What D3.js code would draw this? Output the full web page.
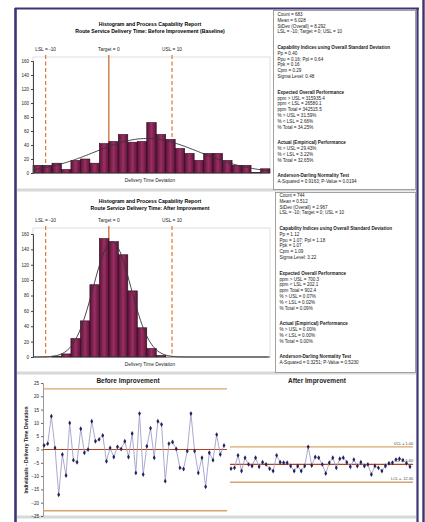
<!DOCTYPE html>
<html>
<head>
<meta charset="utf-8">
<script src="https://cdn.jsdelivr.net/npm/d3@7"></script>
<style>
  body { margin: 0; background: #fff; }
  text { font-family: "Liberation Sans", Arial, sans-serif; }
</style>
</head>
<body>
<svg id="chart" width="425" height="522"></svg>
<script>
///////////////////////////////////////////////////////////////////////////////
// data

var beforeBinStart = -12;
var beforeBinWidth = 1.5;
var beforeCounts = [11, 11, 14, 5, 18, 20, 14, 42, 45, 55, 44, 45, 72, 55, 48,
                    35, 28, 18, 28, 28, 18, 11, 11, 1, 6];
var beforeMean = 6.03, beforeSd = 8.29;

var afterBinStart = -9;
var afterBinWidth = 1.5;
var afterCounts = [1, 4, 24, 47, 94, 154, 150, 133, 86, 38, 11, 2];
var afterMean = 0.51, afterSd = 2.97;

var specValues = [-10, 0, 10];
var specLabels = ["LSL = -10", "Target = 0", "USL = 10"];
var histTicks = [0, 20, 40, 60, 80, 100, 120, 140, 160];

var beforeIndividuals = [1.5, 2.2, 12.5, 0.6, -17, -1.9, -9.8, 10, -4, -4.8,
  7.8, -1.2, 0, 10.6, 3.1, 3.8, 5.3, -4.4, 0.6, -2.8, 1, 0.2, 3.1, -2.8, 6,
  -8.8, 13.5, -9.4, 1.2, 8, -3.1, 10.6, 9.4, -11.9, 2.2, 2.8, 0.2, -6.9, -7.3,
  -0.6, 13.5, -0.6, -8.8, -3.1, -14, -1.2, -4, 5.6, -1.9, 1.5];
var afterIndividuals = [-7.2, -6.9, -2.2, -8.1, -3.1, -5.6, -6.2, -3.1, -6.5,
  -4.8, -5.6, -7.2, -8.1, -2.2, -4.8, -5, -5, -6.2, -8.1, -6.2, -8.1, -6.2, 1,
  -6, -2.8, -3.1, -5.6, -9, -5, -3.1, -6.9, -3.5, -3.1, -4.8, -6.5, -3.8,
  -6.2, -4.8, -6.2, -5.6, -9.4, -6.2, -6.9, -8.1, -6.2, -5.2, -5, -3.8, -3.5,
  -4, -5.2, -6.5];
var beforeLimits = [22.8, 0, -23.0];   // UCL, CL, LCL
var afterLimits = [1.0, -5.6, -12.3];
var limitLabels = ["UCL = 1.00", "CL = -5.60", "LCL = -12.30"];
var ctrlTicks = [-25, -20, -15, -10, -5, 0, 5, 10, 15, 20, 25];

var beforeReport = [
  ["Count = 683", "Mean = 6.028", "StDev (Overall) = 8.292",
   "LSL = -10; Target = 0; USL = 10"],
  ["Capability Indices using Overall Standard Deviation", "Pp = 0.40",
   "Ppu = 0.16; Ppl = 0.64", "Ppk = 0.16", "Cpm = 0.29", "Sigma Level: 0.48"],
  ["Expected Overall Performance", "ppm > USL = 315935.4",
   "ppm < LSL = 26580.1", "ppm Total = 342515.5", "% > USL = 31.59%",
   "% < LSL = 2.66%", "% Total = 34.25%"],
  ["Actual (Empirical) Performance", "% > USL = 29.43%", "% < LSL = 3.22%",
   "% Total = 32.65%"],
  ["Anderson-Darling Normality Test", "A-Squared = 0.9163; P-Value = 0.0194"]
];
var afterReport = [
  ["Count = 744", "Mean = 0.512", "StDev (Overall) = 2.967",
   "LSL = -10; Target = 0; USL = 10"],
  ["Capability Indices using Overall Standard Deviation", "Pp = 1.12",
   "Ppu = 1.07; Ppl = 1.18", "Ppk = 1.07", "Cpm = 1.09", "Sigma Level: 3.22"],
  ["Expected Overall Performance", "ppm > USL = 700.3", "ppm < LSL = 202.1",
   "ppm Total = 902.4", "% > USL = 0.07%", "% < LSL = 0.02%",
   "% Total = 0.09%"],
  ["Actual (Empirical) Performance", "% > USL = 0.00%", "% < LSL = 0.00%",
   "% Total = 0.00%"],
  ["Anderson-Darling Normality Test", "A-Squared = 0.3251; P-Value = 0.5230"]
];

///////////////////////////////////////////////////////////////////////////////

var svg = d3.select("#chart");
var frameColor = "#3b3577";

var defs = svg.append("defs");
var grad = defs.append("linearGradient").attr("id", "barFill")
  .attr("x1", 0).attr("x2", 1).attr("y1", 0).attr("y2", 0);
grad.append("stop").attr("offset", "0%").attr("stop-color", "#5c1238");
grad.append("stop").attr("offset", "50%").attr("stop-color", "#9a2f63");
grad.append("stop").attr("offset", "100%").attr("stop-color", "#5c1238");

// grey separators between the report blocks
[190, 373, 517].forEach(function (y) {
  svg.append("rect").attr("x", 17).attr("y", y - 1.5).attr("width", 399)
    .attr("height", 3).attr("fill", "#d8d8d8");
});

var drawHist = function (cfg) {
  var x = d3.scaleLinear().domain([-12, 25.5]).range([33, 270]);
  var y = d3.scaleLinear().domain([0, 160]).range([cfg.bottom, cfg.top160]);
  var g = svg.append("g");

  g.append("text").attr("x", 150).attr("y", cfg.titleY)
    .attr("text-anchor", "middle").attr("font-size", 5.2)
    .attr("font-weight", "bold").text("Histogram and Process Capability Report");
  g.append("text").attr("x", 150).attr("y", cfg.titleY + 7)
    .attr("text-anchor", "middle").attr("font-size", 5.2)
    .attr("font-weight", "bold").text(cfg.subtitle);

  g.append("rect").attr("x", 33).attr("y", cfg.plotTop).attr("width", 237)
    .attr("height", cfg.bottom - cfg.plotTop).attr("fill", "#fff")
    .attr("stroke", "#c8c8c8").attr("stroke-width", 0.6);

  // spec limits sit behind the bars
  specValues.forEach(function (v, i) {
    g.append("line").attr("x1", x(v)).attr("x2", x(v))
      .attr("y1", cfg.plotTop - 2).attr("y2", cfg.bottom)
      .attr("stroke", i === 1 ? "#c8622a" : "#e0782e")
      .attr("stroke-width", 1.2)
      .attr("stroke-dasharray", i === 1 ? null : "4,2.5");
    g.append("text").attr("x", x(v)).attr("y", cfg.plotTop - 6)
      .attr("text-anchor", "middle").attr("font-size", 4.8)
      .attr("fill", "#222").text(specLabels[i]);
  });

  g.selectAll("rect.bar").data(cfg.counts).enter().append("rect")
    .attr("class", "bar")
    .attr("x", function (d, i) { return x(cfg.start + i * cfg.width); })
    .attr("y", function (d) { return y(d); })
    .attr("width", x(cfg.width) - x(0))
    .attr("height", function (d) { return cfg.bottom - y(d); })
    .attr("fill", "url(#barFill)")
    .attr("stroke", "#2a0a1c").attr("stroke-width", 0.6);

  // fitted normal from the reported mean and stdev
  var n = d3.sum(cfg.counts);
  var pts = d3.range(-12, 25.5, 0.25).map(function (v) {
    var z = (v - cfg.mean) / cfg.sd;
    return [v, n * cfg.width * Math.exp(-0.5 * z * z) / (cfg.sd * Math.sqrt(2 * Math.PI))];
  });
  g.append("path").datum(pts)
    .attr("d", d3.line().x(function (d) { return x(d[0]); })
      .y(function (d) { return y(d[1]); }).curve(d3.curveBasis))
    .attr("fill", "none").attr("stroke", "#333").attr("stroke-width", 0.9);

  g.append("g").attr("transform", "translate(33,0)")
    .call(d3.axisLeft(y).tickValues(histTicks).tickSize(2).tickPadding(2))
    .call(function (a) {
      a.selectAll("text").attr("font-size", 4.5).attr("fill", "#222");
      a.select(".domain").attr("stroke", "#444");
      a.selectAll(".tick line").attr("stroke", "#444");
    });
  g.append("line").attr("x1", 33).attr("x2", 270)
    .attr("y1", cfg.bottom).attr("y2", cfg.bottom)
    .attr("stroke", "#444").attr("stroke-width", 0.8);

  g.append("text").attr("x", 150).attr("y", cfg.bottom + 9)
    .attr("text-anchor", "middle").attr("font-size", 4.8)
    .attr("fill", "#222").text("Delivery Time Deviation");
};

drawHist({
  titleY: 26, subtitle: "Route Service Delivery Time: Before Improvement (Baseline)",
  plotTop: 57, top160: 61, bottom: 173,
  counts: beforeCounts, start: beforeBinStart, width: beforeBinWidth,
  mean: beforeMean, sd: beforeSd
});
drawHist({
  titleY: 203, subtitle: "Route Service Delivery Time: After Improvement",
  plotTop: 228, top160: 234, bottom: 357,
  counts: afterCounts, start: afterBinStart, width: afterBinWidth,
  mean: afterMean, sd: afterSd
});

///////////////////////////////////////////////////////////////////////////////
// text panels

var drawReport = function (groups, box, firstY) {
  svg.append("rect").attr("x", box[0]).attr("y", box[1])
    .attr("width", box[2]).attr("height", box[3])
    .attr("fill", "#fff").attr("stroke", "#8a8a8a").attr("stroke-width", 0.8);
  var yy = firstY;
  groups.forEach(function (lines, gi) {
    lines.forEach(function (line, li) {
      svg.append("text").attr("x", box[0] + 4).attr("y", yy)
        .attr("font-size", 4.6)
        .attr("font-weight", (li === 0 && gi > 0) ? "bold" : "normal")
        .attr("fill", "#1a1a1a").text(line);
      yy += 5.8;
    });
    yy += 5.8 * 1.7;
  });
};

drawReport(beforeReport, [273.5, 10.5, 142, 179], 16);
drawReport(afterReport, [275.5, 192.5, 140, 180], 197);

///////////////////////////////////////////////////////////////////////////////
// individuals charts

var yc = d3.scaleLinear().domain([-25, 25]).range([516, 383]);

svg.append("g").attr("transform", "translate(43,0)")
  .call(d3.axisLeft(yc).tickValues(ctrlTicks).tickSize(2).tickPadding(2))
  .call(function (a) {
    a.selectAll("text").attr("font-size", 4.5).attr("fill", "#222");
    a.select(".domain").attr("stroke", "#999");
    a.selectAll(".tick line").attr("stroke", "#666");
  });

svg.append("text")
  .attr("transform", "translate(28,450) rotate(-90)")
  .attr("text-anchor", "middle").attr("font-size", 5).attr("font-weight", "bold")
  .attr("fill", "#222").text("Individuals - Delivery Time Deviation");

var drawIndividuals = function (vals, limits, x0, x1, title, titleX, labels) {
  var x = d3.scaleLinear().domain([1, vals.length]).range([x0 + 1, x1 - 3]);
  var g = svg.append("g");

  g.append("text").attr("x", titleX).attr("y", 383)
    .attr("text-anchor", "middle").attr("font-size", 6.5)
    .attr("font-weight", "bold").attr("fill", "#222").text(title);

  limits.forEach(function (v, i) {
    g.append("line").attr("x1", x0).attr("x2", x1)
      .attr("y1", yc(v)).attr("y2", yc(v))
      .attr("stroke", i === 1 ? "#b5401e" : "#d8a46c")
      .attr("stroke-width", i === 1 ? 1.1 : 1.4);
    if (labels) {
      g.append("text").attr("x", x1).attr("y", yc(v) - 2)
        .attr("text-anchor", "end").attr("font-size", 3.8)
        .attr("fill", "#444").text(labels[i]);
    }
  });

  g.append("path").datum(vals)
    .attr("d", d3.line().x(function (d, i) { return x(i + 1); })
      .y(function (d) { return yc(d); }))
    .attr("fill", "none").attr("stroke", "#9ea0c8").attr("stroke-width", 0.9);

  g.selectAll("path.pt").data(vals).enter().append("path")
    .attr("class", "pt")
    .attr("transform", function (d, i) {
      return "translate(" + x(i + 1) + "," + yc(d) + ")";
    })
    .attr("d", d3.symbol().type(d3.symbolDiamond).size(7))
    .attr("fill", "#22215a");
};

drawIndividuals(beforeIndividuals, beforeLimits, 43, 227,
                "Before Improvement", 128, null);
drawIndividuals(afterIndividuals, afterLimits, 230, 413,
                "After Improvement", 317, limitLabels);

///////////////////////////////////////////////////////////////////////////////
// outer frame

var frame = [
  [15.5, 8, 15.5, 522, 2.6],
  [15, 8.5, 419, 8.5, 2.2],
  [417.5, 8, 417.5, 522, 2.2],
  [423.5, 0, 423.5, 522, 2.4]
];
frame.forEach(function (f) {
  svg.append("line").attr("x1", f[0]).attr("y1", f[1])
    .attr("x2", f[2]).attr("y2", f[3])
    .attr("stroke", frameColor).attr("stroke-width", f[4]);
});
</script>
</body>
</html>
